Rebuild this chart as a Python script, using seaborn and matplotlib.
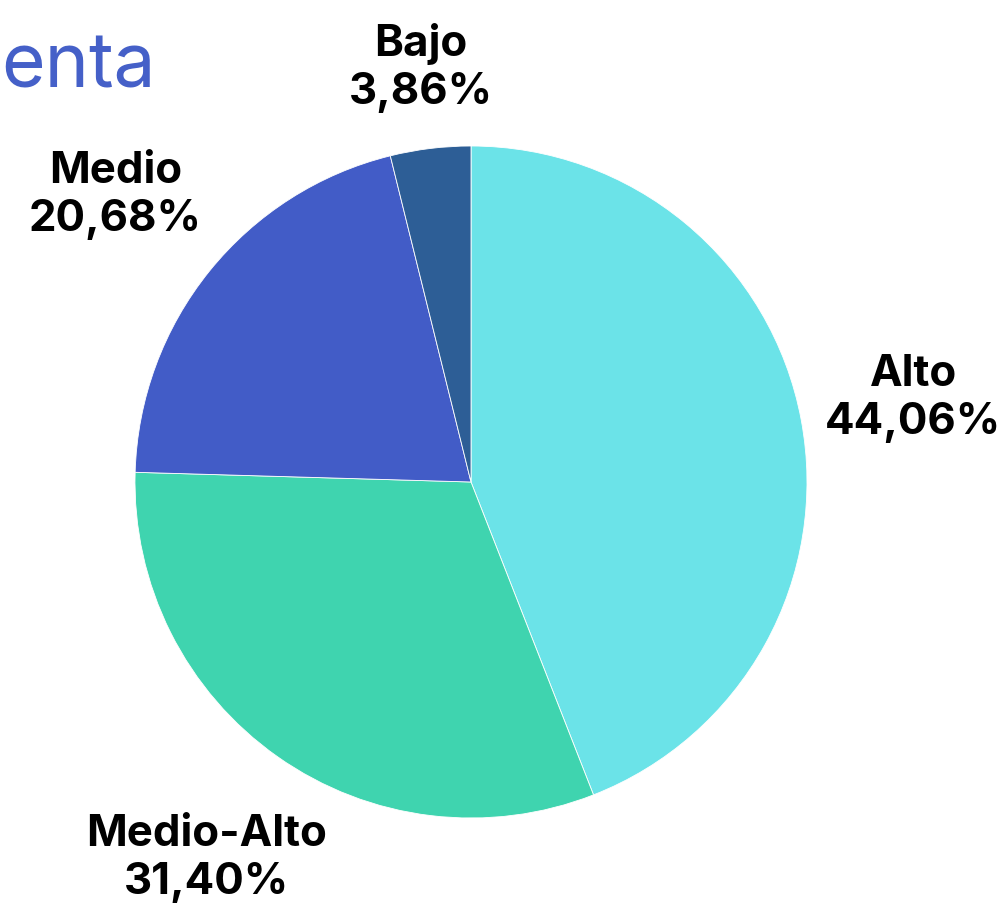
import numpy as np
import matplotlib.pyplot as plt
import seaborn as sns

sns.set_theme(style='white')
plt.rcParams['font.family'] = ['Inter', 'DejaVu Sans']

# datos de segmentos
segmentos = ['Alto', 'Medio-Alto', 'Medio', 'Bajo']
porcentajes = [44.06, 31.40, 20.68, 3.86]
colores = ['#6BE3E8', '#3FD4AF', '#425CC7', '#2D5E96']
dist_etiqueta = [1.34, 1.37, 1.36, 1.24]

fig = plt.figure(figsize=(10.06, 9.11), dpi=100)
ax = fig.add_axes([135 / 1006, 93 / 911, 672 / 1006, 672 / 911])

ax.pie(porcentajes, colors=colores, startangle=90, counterclock=False,
       radius=1, wedgeprops={'edgecolor': 'white', 'linewidth': 0.6})
ax.set_xlim(-1, 1)
ax.set_ylim(-1, 1)
ax.set_aspect('equal')
ax.axis('off')

# etiquetas en el angulo medio de cada porcion
ang_fin = 90 - np.cumsum(porcentajes) * 3.6
ang_medio = ang_fin + np.array(porcentajes) * 1.8
for nombre, p, a, d in zip(segmentos, porcentajes, ang_medio, dist_etiqueta):
    x = d * np.cos(np.radians(a))
    y = d * np.sin(np.radians(a))
    txt = f'{nombre}\n{p:.2f}%'.replace('.', ',')
    ax.text(x, y, txt, ha='center', va='center', fontsize=31.5,
            fontweight='bold', color='black', linespacing=1.22,
            clip_on=False)

fig.text(1 / 1006, (911 - 88) / 911, 'enta', ha='left', va='baseline',
         fontsize=54, color='#4560C8')

fig.savefig('out.png', dpi=100, facecolor='white')
